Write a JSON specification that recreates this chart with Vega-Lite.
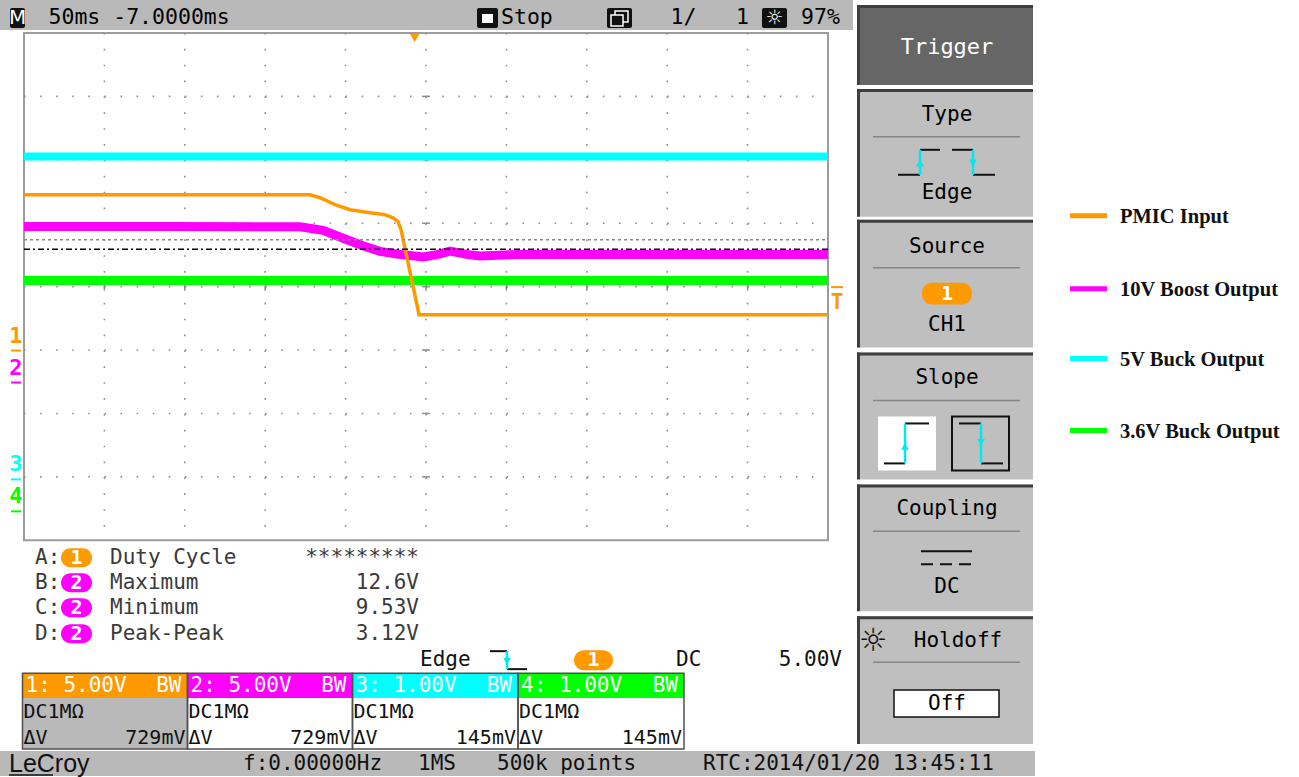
{
  "$schema": "https://vega.github.io/schema/vega-lite/v6.json",
  "description": "LeCroy scope capture: PMIC input brown-out with the 10V boost, 5V buck and 3.6V buck rails. Screen furniture is laid out in graticule divisions; traces are in ms and volts per channel.",
  "width": 1299,
  "height": 777,
  "autosize": {"type": "fit", "contains": "padding"},
  "padding": 0,
  "background": "#ffffff",
  "config": {
    "view": {"stroke": null},
    "text": {"font": "DejaVu Sans Mono", "fontSize": 21, "baseline": "middle"},
    "point": {"opacity": 1}
  },
  "datasets": {
    "traces": [
      {"ch": "1", "t_ms": -243.0, "volts": 12.28},
      {"ch": "1", "t_ms": -65.1, "volts": 12.28},
      {"ch": "1", "t_ms": -58.9, "volts": 12.05},
      {"ch": "1", "t_ms": -49.6, "volts": 11.5},
      {"ch": "1", "t_ms": -40.2, "volts": 11.1},
      {"ch": "1", "t_ms": -27.8, "volts": 10.87},
      {"ch": "1", "t_ms": -18.5, "volts": 10.71},
      {"ch": "1", "t_ms": -13.5, "volts": 10.47},
      {"ch": "1", "t_ms": -10.4, "volts": 10.16},
      {"ch": "1", "t_ms": -8.5, "volts": 9.53},
      {"ch": "1", "t_ms": 2.7, "volts": 2.83},
      {"ch": "1", "t_ms": 257.0, "volts": 2.83},
      {"ch": "2", "t_ms": -243.0, "volts": 12.3},
      {"ch": "2", "t_ms": -150.0, "volts": 12.3},
      {"ch": "2", "t_ms": -71.3, "volts": 12.28},
      {"ch": "2", "t_ms": -57.0, "volts": 11.99},
      {"ch": "2", "t_ms": -42.1, "volts": 11.26},
      {"ch": "2", "t_ms": -32.2, "volts": 10.79},
      {"ch": "2", "t_ms": -21.6, "volts": 10.34},
      {"ch": "2", "t_ms": -11.0, "volts": 10.13},
      {"ch": "2", "t_ms": -2.9, "volts": 10.02},
      {"ch": "2", "t_ms": 5.2, "volts": 9.9},
      {"ch": "2", "t_ms": 13.9, "volts": 10.08},
      {"ch": "2", "t_ms": 22.0, "volts": 10.36},
      {"ch": "2", "t_ms": 32.5, "volts": 10.1},
      {"ch": "2", "t_ms": 40.6, "volts": 9.98},
      {"ch": "2", "t_ms": 65.5, "volts": 10.1},
      {"ch": "2", "t_ms": 257.0, "volts": 10.1},
      {"ch": "3", "t_ms": -243.0, "volts": 5.09},
      {"ch": "3", "t_ms": 257.0, "volts": 5.09},
      {"ch": "4", "t_ms": -243.0, "volts": 3.64},
      {"ch": "4", "t_ms": 257.0, "volts": 3.64}
    ],
    "trigger": [{"t_ms": 0, "level": 5.0}],
    "bars": [
      {"name": "status-top", "dx": -0.2985, "dx2": 10.3109, "dy": 4.5197, "dy2": 4.0472},
      {"name": "status-bottom", "dx": -0.2985, "dx2": 12.5746, "dy": -7.3228, "dy2": -7.7165}
    ],
    "panels": [
      {"name": "Trigger", "dx": 10.3607, "dx2": 12.5498, "dy": 4.4409, "dy2": 3.1811},
      {"name": "Type", "dx": 10.3607, "dx2": 12.5498, "dy": 3.1181, "dy2": 1.1024},
      {"name": "Source", "dx": 10.3607, "dx2": 12.5498, "dy": 1.0551, "dy2": -0.9606},
      {"name": "Slope", "dx": 10.3607, "dx2": 12.5498, "dy": -1.0394, "dy2": -3.0394},
      {"name": "Coupling", "dx": 10.3607, "dx2": 12.5498, "dy": -3.1181, "dy2": -5.1181},
      {"name": "Holdoff", "dx": 10.3607, "dx2": 12.5498, "dy": -5.1969, "dy2": -7.2126}
    ],
    "separators": [{"dy": 2.3622}, {"dy": 0.2992}, {"dy": -1.7953}, {"dy": -3.8583}, {"dy": -5.9213}],
    "screen": [{"dx": 0, "dx2": 10, "dy": 4, "dy2": -4}],
    "graticule_rows": [{"dy": 3}, {"dy": 2}, {"dy": 1}, {"dy": 0}, {"dy": -1}, {"dy": -2}, {"dy": -3}],
    "graticule_cols": [{"dx": 1}, {"dx": 2}, {"dx": 3}, {"dx": 4}, {"dx": 5}, {"dx": 6}, {"dx": 7}, {"dx": 8}, {"dx": 9}],
    "topbar_icons": [
      {"icon": "math", "dx": -0.1741, "dx2": 0.0124},
      {"icon": "stop", "dx": 5.6343, "dx2": 5.8955},
      {"icon": "stack", "dx": 7.2512, "dx2": 7.5622},
      {"icon": "brightness", "dx": 9.1791, "dx2": 9.49}
    ],
    "stop_inner": [{"dx": 5.6965, "dx2": 5.8333, "dy": 4.2992, "dy2": 4.1575}],
    "stack_icon": [
      {"dx": 7.3507, "dx2": 7.5124, "dy": 4.3465, "dy2": 4.1732},
      {"dx": 7.301, "dx2": 7.4502, "dy": 4.2835, "dy2": 4.1102}
    ],
    "topbar_glyphs": [{"label": "M", "dx": -0.0808}, {"label": "☼", "dx": 9.3346}],
    "topbar_text": [
      {"label": "50ms -7.0000ms", "dx": 0.3047},
      {"label": "Stop", "dx": 5.9328},
      {"label": "1/", "dx": 8.041},
      {"label": "1", "dx": 8.8557},
      {"label": "97%", "dx": 9.6642}
    ],
    "panel_labels": [
      {"label": "Type", "dx": 11.4801, "dy": 2.7087},
      {"label": "Edge", "dx": 11.4801, "dy": 1.4803},
      {"label": "Source", "dx": 11.4801, "dy": 0.6299},
      {"label": "CH1", "dx": 11.4801, "dy": -0.5984},
      {"label": "Slope", "dx": 11.4801, "dy": -1.4331},
      {"label": "Coupling", "dx": 11.4801, "dy": -3.5118},
      {"label": "DC", "dx": 11.4801, "dy": -4.7402},
      {"label": "Holdoff", "dx": 11.6169, "dy": -5.5906},
      {"label": "Off", "dx": 11.4801, "dy": -6.5748}
    ],
    "panel_title_dark": [{"label": "Trigger", "dx": 11.4801, "dy": 3.7795}],
    "slope_boxes": [
      {"edge": "rising", "dx": 10.6219, "dx2": 11.3433},
      {"edge": "falling", "dx": 11.5423, "dx2": 12.2512}
    ],
    "holdoff_box": [{"dx": 10.8209, "dx2": 12.1269, "dy": -6.3622, "dy2": -6.7874}],
    "icon_levels": [
      {"dx": 10.8706, "dx2": 11.1443, "dy": 1.7638},
      {"dx": 11.1443, "dx2": 11.393, "dy": 2.1575},
      {"dx": 11.5423, "dx2": 11.8035, "dy": 2.1575},
      {"dx": 11.8035, "dx2": 12.0771, "dy": 1.7638},
      {"dx": 10.6965, "dx2": 10.9577, "dy": -2.7874},
      {"dx": 10.9577, "dx2": 11.2562, "dy": -2.1575},
      {"dx": 11.6294, "dx2": 11.903, "dy": -2.1575},
      {"dx": 11.903, "dx2": 12.1766, "dy": -2.7874},
      {"dx": 11.1567, "dx2": 11.791, "dy": -4.1732},
      {"dx": 5.796, "dx2": 6.0075, "dy": -5.748},
      {"dx": 6.0075, "dx2": 6.2562, "dy": -6.0315}
    ],
    "icon_edges": [
      {"dx": 11.1443, "dy": 2.1575, "dy2": 1.7638},
      {"dx": 11.8035, "dy": 2.1575, "dy2": 1.7638},
      {"dx": 10.9577, "dy": -2.1575, "dy2": -2.7874},
      {"dx": 11.903, "dy": -2.1575, "dy2": -2.7874},
      {"dx": 6.0075, "dy": -5.748, "dy2": -6.0315}
    ],
    "icon_arrows": [
      {"dir": "up", "dx": 11.1443, "dy": 1.9528},
      {"dir": "down", "dx": 11.8035, "dy": 1.9528},
      {"dir": "up", "dx": 10.9577, "dy": -2.5197},
      {"dir": "down", "dx": 11.903, "dy": -2.4567},
      {"dir": "down", "dx": 6.0075, "dy": -5.9055}
    ],
    "coupling_dc": [{"dx": 11.1567, "dx2": 11.791, "dy": -4.378}],
    "holdoff_icon": [{"label": "☼", "dx": 10.5597, "dy": -5.5906}],
    "pills": [
      {"ch": "1", "dx": 11.1692, "dx2": 11.791, "dy": 0.063, "dy2": -0.2835, "cx": 11.4801, "cy": -0.1102},
      {"ch": "1", "dx": 0.4602, "dx2": 0.8458, "dy": -4.126, "dy2": -4.4252, "cx": 0.653, "cy": -4.2756},
      {"ch": "2", "dx": 0.4602, "dx2": 0.8458, "dy": -4.5197, "dy2": -4.8189, "cx": 0.653, "cy": -4.6693},
      {"ch": "2", "dx": 0.4602, "dx2": 0.8458, "dy": -4.9134, "dy2": -5.2126, "cx": 0.653, "cy": -5.063},
      {"ch": "2", "dx": 0.4602, "dx2": 0.8458, "dy": -5.3228, "dy2": -5.622, "cx": 0.653, "cy": -5.4724},
      {"ch": "1", "dx": 6.8408, "dx2": 7.3259, "dy": -5.7323, "dy2": -6.0472, "cx": 7.0833, "cy": -5.8898}
    ],
    "measurements": [
      {"slot": "A:", "name": "Duty Cycle", "value": "*********", "dy": -4.2756},
      {"slot": "B:", "name": "Maximum", "value": "12.6V", "dy": -4.6693},
      {"slot": "C:", "name": "Minimum", "value": "9.53V", "dy": -5.063},
      {"slot": "D:", "name": "Peak-Peak", "value": "3.12V", "dy": -5.4724}
    ],
    "readout_left": [{"label": "Edge", "dx": 4.9254}, {"label": "DC", "dx": 8.1095}],
    "readout_right": [{"label": "5.00V", "dx": 10.1741}],
    "ch_boxes": [
      {"ch": "1", "dx": -0.0187, "dx2": 2.0336, "head": "1: 5.00V", "dv": "729mV"},
      {"ch": "2", "dx": 2.0336, "dx2": 4.0858, "head": "2: 5.00V", "dv": "729mV"},
      {"ch": "3", "dx": 4.0858, "dx2": 6.1443, "head": "3: 1.00V", "dv": "145mV"},
      {"ch": "4", "dx": 6.1443, "dx2": 8.209, "head": "4: 1.00V", "dv": "145mV"}
    ],
    "status_text": [
      {"label": "f:0.00000Hz", "dx": 2.7239},
      {"label": "1MS", "dx": 4.9005},
      {"label": "500k points", "dx": 5.8831},
      {"label": "RTC:2014/01/20 13:45:11", "dx": 8.4453}
    ],
    "logo": [{"label": "LeCroy", "dx": -0.1866}],
    "logo_rule": [{"dx": -0.1866, "dx2": 0.3607, "dy": -7.7008}],
    "ch_markers": [
      {"ch": "1", "dy": -0.7717, "ground": -1.0079},
      {"ch": "2", "dy": -1.2756, "ground": -1.5118},
      {"ch": "3", "dy": -2.8031, "ground": -3.0394},
      {"ch": "4", "dy": -3.3071, "ground": -3.5433}
    ],
    "legend_rows": [
      {"ch": "1", "label": "PMIC Input", "dy": 1.1181},
      {"ch": "2", "label": "10V Boost Output", "dy": -0.0315},
      {"ch": "3", "label": "5V Buck Output", "dy": -1.1339},
      {"ch": "4", "label": "3.6V Buck Output", "dy": -2.2677}
    ],
    "cursors": [{"cursor": "A", "dy": 0.7402}, {"cursor": "B", "dy": 0.5906}]
  },
  "resolve": {"scale": {"x": "independent", "y": "independent"}},
  "layer": [
    {
      "layer": [
        {"data": {"name": "bars"}, "mark": {"type": "rect", "color": "#b9b9b9"}, "encoding": {
          "x": {"field": "dx", "type": "quantitative", "scale": {"domain": [-0.2985, 15.8582], "nice": false, "zero": false}, "axis": null},
          "y": {"field": "dy", "type": "quantitative", "scale": {"domain": [-7.7165, 4.5197], "nice": false, "zero": false}, "axis": null},
          "x2": {"field": "dx2"}, "y2": {"field": "dy2"}}},
        {"data": {"name": "panels"}, "transform": [{"filter": "datum.name !== 'Trigger'"}], "mark": {"type": "rect", "color": "#bfbfbf"}, "encoding": {
          "x": {"field": "dx", "type": "quantitative", "axis": null}, "y": {"field": "dy", "type": "quantitative", "axis": null},
          "x2": {"field": "dx2"}, "y2": {"field": "dy2"}}},
        {"data": {"name": "panels"}, "transform": [{"filter": "datum.name === 'Trigger'"}], "mark": {"type": "rect", "color": "#666666"}, "encoding": {
          "x": {"field": "dx", "type": "quantitative", "axis": null}, "y": {"field": "dy", "type": "quantitative", "axis": null},
          "x2": {"field": "dx2"}, "y2": {"field": "dy2"}}},
        {"data": {"name": "panels"}, "mark": {"type": "rule", "color": "#3f3f3f", "strokeWidth": 3, "xOffset": 1.5}, "encoding": {
          "x": {"field": "dx", "type": "quantitative", "axis": null}, "y": {"field": "dy", "type": "quantitative", "axis": null},
          "y2": {"field": "dy2"}}},
        {"data": {"name": "panels"}, "mark": {"type": "rule", "color": "#3f3f3f", "strokeWidth": 3, "yOffset": 1.5}, "encoding": {
          "x": {"field": "dx", "type": "quantitative", "axis": null}, "y": {"field": "dy", "type": "quantitative", "axis": null},
          "x2": {"field": "dx2"}}},
        {"data": {"name": "separators"}, "mark": {"type": "rule", "color": "#858585", "strokeWidth": 1.5}, "encoding": {
          "x": {"datum": 10.5597, "type": "quantitative", "axis": null}, "x2": {"datum": 12.3881},
          "y": {"field": "dy", "type": "quantitative", "axis": null}}},
        {"data": {"name": "screen"}, "mark": {"type": "rect", "fill": "#ffffff", "stroke": "#9c9c9c", "strokeWidth": 2}, "encoding": {
          "x": {"field": "dx", "type": "quantitative", "axis": null}, "y": {"field": "dy", "type": "quantitative", "axis": null},
          "x2": {"field": "dx2"}, "y2": {"field": "dy2"}}},
        {"data": {"name": "graticule_rows"}, "mark": {"type": "rule", "color": "#8f8f8f", "strokeWidth": 1.6, "strokeDash": [1.6, 14.48]}, "encoding": {
          "x": {"datum": 0, "type": "quantitative", "axis": null}, "x2": {"datum": 10},
          "y": {"field": "dy", "type": "quantitative", "axis": null}}},
        {"data": {"name": "graticule_cols"}, "mark": {"type": "rule", "color": "#8f8f8f", "strokeWidth": 1.6, "strokeDash": [1.6, 14.275]}, "encoding": {
          "x": {"field": "dx", "type": "quantitative", "axis": null},
          "y": {"datum": 4, "type": "quantitative", "axis": null}, "y2": {"datum": -4}}},
        {"data": {"name": "graticule_cols"}, "mark": {"type": "point", "shape": "stroke", "angle": 90, "size": 64, "filled": false, "color": "#8f8f8f", "strokeWidth": 1.5}, "encoding": {
          "x": {"field": "dx", "type": "quantitative", "axis": null},
          "y": {"datum": 0, "type": "quantitative", "axis": null}}},
        {"data": {"name": "graticule_rows"}, "mark": {"type": "point", "shape": "stroke", "size": 64, "filled": false, "color": "#8f8f8f", "strokeWidth": 1.5}, "encoding": {
          "x": {"datum": 5, "type": "quantitative", "axis": null},
          "y": {"field": "dy", "type": "quantitative", "axis": null}}},
        {"data": {"name": "topbar_icons"}, "mark": {"type": "rect", "color": "#111111", "cornerRadius": 2}, "encoding": {
          "x": {"field": "dx", "type": "quantitative", "axis": null}, "x2": {"field": "dx2"},
          "y": {"datum": 4.3937, "type": "quantitative", "axis": null}, "y2": {"datum": 4.0787}}},
        {"data": {"name": "stop_inner"}, "mark": {"type": "rect", "color": "#ffffff"}, "encoding": {
          "x": {"field": "dx", "type": "quantitative", "axis": null}, "y": {"field": "dy", "type": "quantitative", "axis": null},
          "x2": {"field": "dx2"}, "y2": {"field": "dy2"}}},
        {"data": {"name": "stack_icon"}, "mark": {"type": "rect", "fill": "#111111", "stroke": "#ffffff", "strokeWidth": 1.5}, "encoding": {
          "x": {"field": "dx", "type": "quantitative", "axis": null}, "y": {"field": "dy", "type": "quantitative", "axis": null},
          "x2": {"field": "dx2"}, "y2": {"field": "dy2"}}},
        {"data": {"name": "topbar_glyphs"}, "mark": {"type": "text", "color": "#ffffff", "align": "center", "fontSize": 20, "font": "DejaVu Sans"}, "encoding": {
          "x": {"field": "dx", "type": "quantitative", "axis": null},
          "y": {"datum": 4.2283, "type": "quantitative", "axis": null}, "text": {"field": "label"}}},
        {"data": {"name": "topbar_text"}, "mark": {"type": "text", "color": "#000000", "align": "left", "fontSize": 21.5}, "encoding": {
          "x": {"field": "dx", "type": "quantitative", "axis": null},
          "y": {"datum": 4.2283, "type": "quantitative", "axis": null}, "text": {"field": "label"}}},
        {"data": {"name": "holdoff_box"}, "mark": {"type": "rect", "fill": "#ffffff", "stroke": "#111111", "strokeWidth": 1.5}, "encoding": {
          "x": {"field": "dx", "type": "quantitative", "axis": null}, "y": {"field": "dy", "type": "quantitative", "axis": null},
          "x2": {"field": "dx2"}, "y2": {"field": "dy2"}}},
        {"data": {"name": "panel_labels"}, "mark": {"type": "text", "color": "#000000", "align": "center"}, "encoding": {
          "x": {"field": "dx", "type": "quantitative", "axis": null}, "y": {"field": "dy", "type": "quantitative", "axis": null},
          "text": {"field": "label"}}},
        {"data": {"name": "panel_title_dark"}, "mark": {"type": "text", "color": "#ffffff", "align": "center", "fontSize": 22}, "encoding": {
          "x": {"field": "dx", "type": "quantitative", "axis": null}, "y": {"field": "dy", "type": "quantitative", "axis": null},
          "text": {"field": "label"}}},
        {"data": {"name": "slope_boxes"}, "transform": [{"filter": "datum.edge === 'rising'"}], "mark": {"type": "rect", "color": "#ffffff"}, "encoding": {
          "x": {"field": "dx", "type": "quantitative", "axis": null}, "x2": {"field": "dx2"},
          "y": {"datum": -2.0472, "type": "quantitative", "axis": null}, "y2": {"datum": -2.8976}}},
        {"data": {"name": "slope_boxes"}, "transform": [{"filter": "datum.edge === 'falling'"}], "mark": {"type": "rect", "fillOpacity": 0, "stroke": "#111111", "strokeWidth": 2}, "encoding": {
          "x": {"field": "dx", "type": "quantitative", "axis": null}, "x2": {"field": "dx2"},
          "y": {"datum": -2.0472, "type": "quantitative", "axis": null}, "y2": {"datum": -2.8976}}},
        {"data": {"name": "icon_levels"}, "mark": {"type": "rule", "color": "#111111", "strokeWidth": 2}, "encoding": {
          "x": {"field": "dx", "type": "quantitative", "axis": null}, "y": {"field": "dy", "type": "quantitative", "axis": null},
          "x2": {"field": "dx2"}}},
        {"data": {"name": "coupling_dc"}, "mark": {"type": "rule", "color": "#111111", "strokeWidth": 2, "strokeDash": [12, 7]}, "encoding": {
          "x": {"field": "dx", "type": "quantitative", "axis": null}, "y": {"field": "dy", "type": "quantitative", "axis": null},
          "x2": {"field": "dx2"}}},
        {"data": {"name": "icon_edges"}, "mark": {"type": "rule", "color": "#00e8f0", "strokeWidth": 2.5}, "encoding": {
          "x": {"field": "dx", "type": "quantitative", "axis": null}, "y": {"field": "dy", "type": "quantitative", "axis": null},
          "y2": {"field": "dy2"}}},
        {"data": {"name": "icon_arrows"}, "mark": {"type": "point", "filled": true, "color": "#00e8f0", "size": 60}, "encoding": {
          "x": {"field": "dx", "type": "quantitative", "axis": null}, "y": {"field": "dy", "type": "quantitative", "axis": null},
          "shape": {"field": "dir", "type": "nominal", "scale": {"domain": ["up", "down"], "range": ["triangle-up", "triangle-down"]}, "legend": null}}},
        {"data": {"name": "holdoff_icon"}, "mark": {"type": "text", "color": "#111111", "align": "center", "fontSize": 32, "font": "DejaVu Sans"}, "encoding": {
          "x": {"field": "dx", "type": "quantitative", "axis": null}, "y": {"field": "dy", "type": "quantitative", "axis": null},
          "text": {"field": "label"}}},
        {"data": {"name": "pills"}, "mark": {"type": "rect", "cornerRadius": 10}, "encoding": {
          "x": {"field": "dx", "type": "quantitative", "axis": null}, "y": {"field": "dy", "type": "quantitative", "axis": null},
          "x2": {"field": "dx2"}, "y2": {"field": "dy2"},
          "color": {"field": "ch", "type": "nominal", "scale": {"domain": ["1", "2", "3", "4"], "range": ["#ff9900", "#ff00ff", "#00ffff", "#00ff00"]}, "legend": null}}},
        {"data": {"name": "pills"}, "mark": {"type": "text", "color": "#ffffff", "align": "center", "fontSize": 20, "fontWeight": "bold"}, "encoding": {
          "x": {"field": "cx", "type": "quantitative", "axis": null}, "y": {"field": "cy", "type": "quantitative", "axis": null},
          "text": {"field": "ch"}}},
        {"data": {"name": "measurements"}, "mark": {"type": "text", "color": "#3a3a3a", "align": "left"}, "encoding": {
          "x": {"datum": 0.1368, "type": "quantitative", "axis": null}, "y": {"field": "dy", "type": "quantitative", "axis": null},
          "text": {"field": "slot"}}},
        {"data": {"name": "measurements"}, "mark": {"type": "text", "color": "#3a3a3a", "align": "left"}, "encoding": {
          "x": {"datum": 1.0697, "type": "quantitative", "axis": null}, "y": {"field": "dy", "type": "quantitative", "axis": null},
          "text": {"field": "name"}}},
        {"data": {"name": "measurements"}, "mark": {"type": "text", "color": "#3a3a3a", "align": "right"}, "encoding": {
          "x": {"datum": 4.9129, "type": "quantitative", "axis": null}, "y": {"field": "dy", "type": "quantitative", "axis": null},
          "text": {"field": "value"}}},
        {"data": {"name": "readout_left"}, "mark": {"type": "text", "color": "#111111", "align": "left"}, "encoding": {
          "x": {"field": "dx", "type": "quantitative", "axis": null},
          "y": {"datum": -5.8898, "type": "quantitative", "axis": null}, "text": {"field": "label"}}},
        {"data": {"name": "readout_right"}, "mark": {"type": "text", "color": "#111111", "align": "right"}, "encoding": {
          "x": {"field": "dx", "type": "quantitative", "axis": null},
          "y": {"datum": -5.8898, "type": "quantitative", "axis": null}, "text": {"field": "label"}}},
        {"data": {"name": "ch_boxes"}, "mark": {"type": "rect"}, "encoding": {
          "x": {"field": "dx", "type": "quantitative", "axis": null}, "x2": {"field": "dx2"},
          "y": {"datum": -6.0945, "type": "quantitative", "axis": null}, "y2": {"datum": -6.4882},
          "color": {"field": "ch", "type": "nominal", "scale": {"domain": ["1", "2", "3", "4"], "range": ["#ff9900", "#ff00ff", "#00ffff", "#00ff00"]}, "legend": null}}},
        {"data": {"name": "ch_boxes"}, "transform": [{"filter": "datum.ch === '1'"}], "mark": {"type": "rect", "color": "#b9b9b9"}, "encoding": {
          "x": {"field": "dx", "type": "quantitative", "axis": null}, "x2": {"field": "dx2"},
          "y": {"datum": -6.4882, "type": "quantitative", "axis": null}, "y2": {"datum": -7.2913}}},
        {"data": {"name": "ch_boxes"}, "mark": {"type": "rect", "fillOpacity": 0, "stroke": "#505050", "strokeWidth": 1.5}, "encoding": {
          "x": {"field": "dx", "type": "quantitative", "axis": null}, "x2": {"field": "dx2"},
          "y": {"datum": -6.0945, "type": "quantitative", "axis": null}, "y2": {"datum": -7.2913}}},
        {"data": {"name": "ch_boxes"}, "mark": {"type": "text", "color": "#ffffff", "align": "left", "fontSize": 21, "dx": 3}, "encoding": {
          "x": {"field": "dx", "type": "quantitative", "axis": null},
          "y": {"datum": -6.2913, "type": "quantitative", "axis": null}, "text": {"field": "head"}}},
        {"data": {"name": "ch_boxes"}, "mark": {"type": "text", "color": "#ffffff", "align": "right", "fontSize": 21, "dx": -6, "text": "BW"}, "encoding": {
          "x": {"field": "dx2", "type": "quantitative", "axis": null},
          "y": {"datum": -6.2913, "type": "quantitative", "axis": null}}},
        {"data": {"name": "ch_boxes"}, "mark": {"type": "text", "color": "#111111", "align": "left", "fontSize": 20, "dx": 1, "text": "DC1MΩ"}, "encoding": {
          "x": {"field": "dx", "type": "quantitative", "axis": null},
          "y": {"datum": -6.7008, "type": "quantitative", "axis": null}}},
        {"data": {"name": "ch_boxes"}, "mark": {"type": "text", "color": "#111111", "align": "left", "fontSize": 20, "dx": 1, "text": "ΔV"}, "encoding": {
          "x": {"field": "dx", "type": "quantitative", "axis": null},
          "y": {"datum": -7.1181, "type": "quantitative", "axis": null}}},
        {"data": {"name": "ch_boxes"}, "mark": {"type": "text", "color": "#111111", "align": "right", "fontSize": 20, "dx": -2}, "encoding": {
          "x": {"field": "dx2", "type": "quantitative", "axis": null},
          "y": {"datum": -7.1181, "type": "quantitative", "axis": null}, "text": {"field": "dv"}}},
        {"data": {"name": "status_text"}, "mark": {"type": "text", "color": "#111111", "align": "left"}, "encoding": {
          "x": {"field": "dx", "type": "quantitative", "axis": null},
          "y": {"datum": -7.5276, "type": "quantitative", "axis": null}, "text": {"field": "label"}}},
        {"data": {"name": "logo"}, "mark": {"type": "text", "color": "#111111", "align": "left", "font": "Liberation Sans", "fontSize": 25}, "encoding": {
          "x": {"field": "dx", "type": "quantitative", "axis": null},
          "y": {"datum": -7.5197, "type": "quantitative", "axis": null}, "text": {"field": "label"}}},
        {"data": {"name": "logo_rule"}, "mark": {"type": "rule", "color": "#111111", "strokeWidth": 1.5}, "encoding": {
          "x": {"field": "dx", "type": "quantitative", "axis": null}, "y": {"field": "dy", "type": "quantitative", "axis": null},
          "x2": {"field": "dx2"}}},
        {"data": {"name": "ch_markers"}, "mark": {"type": "text", "align": "center", "fontSize": 22, "fontWeight": "bold"}, "encoding": {
          "x": {"datum": -0.0995, "type": "quantitative", "axis": null}, "y": {"field": "dy", "type": "quantitative", "axis": null},
          "text": {"field": "ch"},
          "color": {"field": "ch", "type": "nominal", "scale": {"domain": ["1", "2", "3", "4"], "range": ["#ff9900", "#ff00ff", "#00ffff", "#00ff00"]}, "legend": null}}},
        {"data": {"name": "ch_markers"}, "mark": {"type": "rule", "strokeWidth": 2}, "encoding": {
          "x": {"datum": -0.1617, "type": "quantitative", "axis": null}, "x2": {"datum": -0.0373},
          "y": {"field": "ground", "type": "quantitative", "axis": null},
          "color": {"field": "ch", "type": "nominal", "scale": {"domain": ["1", "2", "3", "4"], "range": ["#ff9900", "#ff00ff", "#00ffff", "#00ff00"]}, "legend": null}}},
        {"data": {"name": "legend_rows"}, "mark": {"type": "rule", "strokeWidth": 5}, "encoding": {
          "x": {"datum": 13.01, "type": "quantitative", "axis": null}, "x2": {"datum": 13.4701},
          "y": {"field": "dy", "type": "quantitative", "axis": null},
          "color": {"field": "ch", "type": "nominal", "scale": {"domain": ["1", "2", "3", "4"], "range": ["#ff9900", "#ff00ff", "#00ffff", "#00ff00"]}, "legend": null}}},
        {"data": {"name": "legend_rows"}, "mark": {"type": "text", "color": "#111111", "align": "left", "font": "Liberation Serif", "fontWeight": "bold", "fontSize": 20.5, "dy": 1.5}, "encoding": {
          "x": {"datum": 13.6318, "type": "quantitative", "axis": null}, "y": {"field": "dy", "type": "quantitative", "axis": null},
          "text": {"field": "label"}}}
      ]
    },
    {
      "data": {"name": "traces"},
      "transform": [{"filter": "datum.ch === '4'"}],
      "mark": {"type": "line", "color": "#00ff00", "strokeWidth": 9},
      "encoding": {
        "x": {"field": "t_ms", "type": "quantitative", "scale": {"domain": [-257.9, 549.94], "nice": false, "zero": false}, "axis": null},
        "y": {"field": "volts", "type": "quantitative", "scale": {"domain": [-4.173, 8.063], "nice": false, "zero": false}, "axis": null}
      }
    },
    {
      "data": {"name": "traces"},
      "transform": [{"filter": "datum.ch === '3'"}],
      "mark": {"type": "line", "color": "#00ffff", "strokeWidth": 8},
      "encoding": {
        "x": {"field": "t_ms", "type": "quantitative", "scale": {"domain": [-257.9, 549.94], "nice": false, "zero": false}, "axis": null},
        "y": {"field": "volts", "type": "quantitative", "scale": {"domain": [-4.677, 7.559], "nice": false, "zero": false}, "axis": null}
      }
    },
    {
      "data": {"name": "traces"},
      "transform": [{"filter": "datum.ch === '2'"}],
      "mark": {"type": "line", "color": "#ff00ff", "strokeWidth": 9},
      "encoding": {
        "x": {"field": "t_ms", "type": "quantitative", "scale": {"domain": [-257.9, 549.94], "nice": false, "zero": false}, "axis": null},
        "y": {"field": "volts", "type": "quantitative", "scale": {"domain": [-31.024, 30.157], "nice": false, "zero": false}, "axis": null}
      }
    },
    {
      "data": {"name": "traces"},
      "transform": [{"filter": "datum.ch === '1'"}],
      "mark": {"type": "line", "color": "#ff9900", "strokeWidth": 3.5},
      "encoding": {
        "x": {"field": "t_ms", "type": "quantitative", "scale": {"domain": [-257.9, 549.94], "nice": false, "zero": false}, "axis": null},
        "y": {"field": "volts", "type": "quantitative", "scale": {"domain": [-33.543, 27.638], "nice": false, "zero": false}, "axis": null}
      }
    },
    {
      "data": {"name": "cursors"},
      "encoding": {
        "x": {"datum": 0, "type": "quantitative", "scale": {"domain": [-0.2985, 15.8582], "nice": false, "zero": false}, "axis": null},
        "x2": {"datum": 10},
        "y": {"field": "dy", "type": "quantitative", "scale": {"domain": [-7.7165, 4.5197], "nice": false, "zero": false}, "axis": null}
      },
      "layer": [
        {"transform": [{"filter": "datum.cursor === 'A'"}], "mark": {"type": "rule", "color": "#8a8a8a", "strokeWidth": 1.5, "strokeDash": [3, 3]}},
        {"transform": [{"filter": "datum.cursor === 'B'"}], "mark": {"type": "rule", "color": "#000000", "strokeWidth": 1.5, "strokeDash": [6, 3, 2, 3]}}
      ]
    },
    {
      "data": {"name": "trigger"},
      "encoding": {
        "x": {"field": "t_ms", "type": "quantitative", "scale": {"domain": [-257.9, 549.94], "nice": false, "zero": false}, "axis": null},
        "y": {"field": "level", "type": "quantitative", "scale": {"domain": [-33.543, 27.638], "nice": false, "zero": false}, "axis": null}
      },
      "layer": [
        {"mark": {"type": "point", "shape": "triangle-down", "filled": true, "color": "#ff9900", "size": 85}, "encoding": {"y": {"datum": 24.65}}},
        {"mark": {"type": "rule", "color": "#ff9900", "strokeWidth": 2}, "encoding": {"x": {"datum": 258.9}, "x2": {"datum": 266.4}}},
        {"mark": {"type": "text", "text": "T", "color": "#ff9900", "fontSize": 21, "fontWeight": "bold", "align": "center"}, "encoding": {"x": {"datum": 262.6}, "y": {"datum": 3.78}}}
      ]
    }
  ]
}
